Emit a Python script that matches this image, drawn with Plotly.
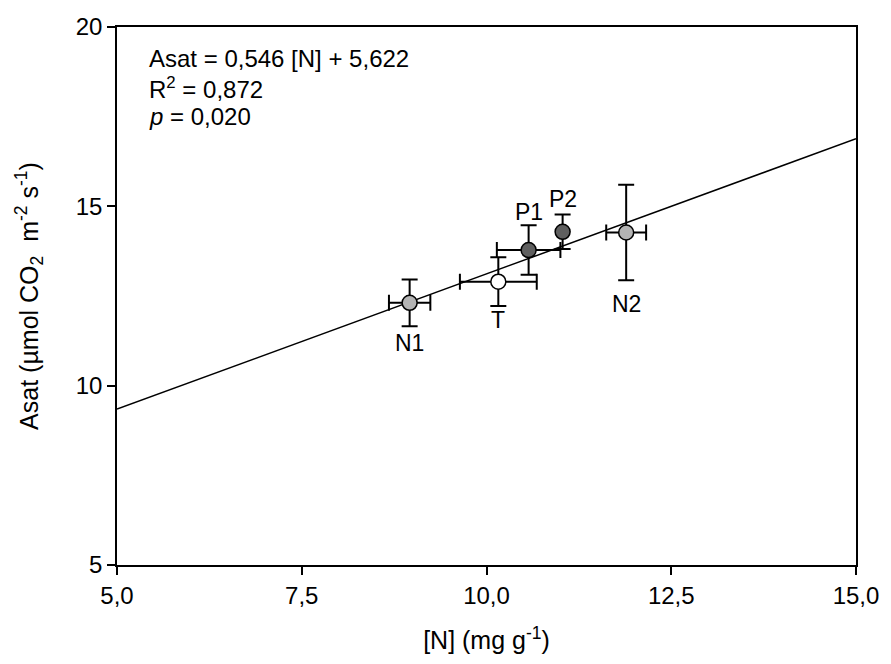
import numpy as np
import plotly.graph_objects as go

# Leaf nitrogen vs. light-saturated photosynthesis, per treatment
treatments = ["N1", "T", "P1", "P2", "N2"]
n_mean = [8.96, 10.16, 10.57, 11.03, 11.89]
n_err = [0.28, 0.52, 0.43, 0.0, 0.27]
asat_mean = [12.31, 12.90, 13.78, 14.29, 14.27]
asat_err = [0.65, 0.68, 0.69, 0.48, 1.33]
marker_fill = ["#b4b4b4", "#ffffff", "#5f5f5f", "#5f5f5f", "#b4b4b4"]
label_shift = [-40, -38, 38, 33, -71]

x_range = [5, 15]
y_range = [5, 20]
x_ticks = [5.0, 7.5, 10.0, 12.5, 15.0]
y_ticks = [5, 10, 15, 20]

eq_lines = [
    "Asat = 0,546 [N] + 5,622",
    "R<sup>2</sup> = 0,872",
    "<i>p</i> = 0,020",
]

FONT = "Liberation Sans, Arial, sans-serif"
TICK_SIZE = 24
TITLE_SIZE = 25
EQ_SIZE = 24
LABEL_SIZE = 23

# least-squares regression through the treatment means
slope, intercept = np.polyfit(n_mean, asat_mean, 1)
x_line = np.array(x_range, dtype=float)
y_line = slope * x_line + intercept

fig = go.Figure()
fig.add_trace(go.Scatter(
    x=x_line, y=y_line, mode="lines",
    line=dict(color="black", width=1.5),
    hoverinfo="skip", showlegend=False,
))
fig.add_trace(go.Scatter(
    x=n_mean, y=asat_mean, mode="markers",
    error_x=dict(type="data", array=n_err, color="black", thickness=2, width=8),
    error_y=dict(type="data", array=asat_err, color="black", thickness=2, width=8),
    marker=dict(size=15, color=marker_fill, line=dict(color="black", width=1.5)),
    text=treatments, showlegend=False,
))

# plot-area geometry in pixels, used to place the equation block
plot_left, plot_top, plot_w, plot_h = 117, 27, 747, 538

annotations = []
for name, xv, yv, dy in zip(treatments, n_mean, asat_mean, label_shift):
    annotations.append(dict(
        x=xv, y=yv, xref="x", yref="y", text=name, showarrow=False,
        yshift=dy, font=dict(family=FONT, size=LABEL_SIZE, color="black"),
    ))
for i, line in enumerate(eq_lines):
    y_px = 59 + 29 * i
    annotations.append(dict(
        x=(147 - plot_left) / plot_w, y=1 - (y_px - plot_top) / plot_h,
        xref="paper", yref="paper", text=line,
        showarrow=False, xanchor="left", yanchor="middle",
        font=dict(family=FONT, size=EQ_SIZE, color="black"),
    ))

fig.update_layout(
    width=891, height=664,
    margin=dict(l=plot_left, r=891 - plot_left - plot_w, t=plot_top,
                b=664 - plot_top - plot_h),
    paper_bgcolor="white", plot_bgcolor="white",
    separators=", ",
    font=dict(family=FONT, size=TICK_SIZE, color="black"),
    annotations=annotations,
    xaxis=dict(
        range=x_range, tickvals=x_ticks, tickformat=".1f",
        tickfont=dict(family=FONT, size=TICK_SIZE, color="black"),
        showline=True, linecolor="black", linewidth=1.5, mirror=True,
        ticks="outside", ticklen=8, tickwidth=1.5, tickcolor="black",
        showgrid=False, zeroline=False,
        title=dict(text="[N] (mg g<sup>-1</sup>)", standoff=24,
                   font=dict(family=FONT, size=TITLE_SIZE, color="black")),
    ),
    yaxis=dict(
        range=y_range, tickvals=y_ticks,
        tickfont=dict(family=FONT, size=TICK_SIZE, color="black"),
        showline=True, linecolor="black", linewidth=1.5, mirror=True,
        ticks="outside", ticklen=8, tickwidth=1.5, tickcolor="black",
        showgrid=False, zeroline=False,
        title=dict(text="Asat (µmol CO<sub>2</sub>  m<sup>-2</sup> s<sup>-1</sup>)",
                   standoff=30,
                   font=dict(family=FONT, size=TITLE_SIZE, color="black")),
    ),
)

fig.write_html("out.html")
